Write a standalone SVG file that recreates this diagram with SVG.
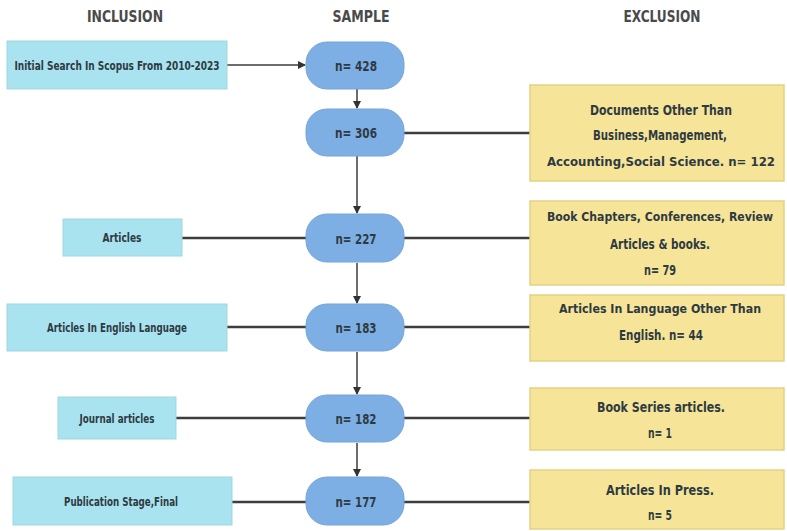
<svg xmlns="http://www.w3.org/2000/svg" width="787" height="531" viewBox="0 0 787 531">
<defs>
<marker id="arr" markerWidth="8" markerHeight="8" refX="7" refY="4" orient="auto" markerUnits="userSpaceOnUse">
<path d="M0,0 L8,4 L0,8 Z" fill="#333"/>
</marker>
<style>
text{font-family:"DejaVu Sans Condensed","DejaVu Sans",sans-serif;font-weight:bold;fill:#2e3a42;text-anchor:middle;dominant-baseline:central}
.hd{font-size:15px;fill:#4a4a4a}
.inc{fill:#a9e3ef;stroke:#9fd6e2;stroke-width:1}
.smp{fill:#7eafe4;stroke:#75a5d8;stroke-width:1}
.exc{fill:#f6e598;stroke:#e3d185;stroke-width:1.5}
.lt{font-size:12px}
.st{font-size:14px}
.rt{font-size:14px}
.rs{font-size:12.5px}
.ln{stroke:#3d3d3d;stroke-width:2.5;fill:none}
.ar{stroke:#3d3d3d;stroke-width:1.5;fill:none;marker-end:url(#arr)}
</style>
</defs>
<rect width="787" height="531" fill="#ffffff"/>
<g id="headers">
<text class="hd" x="125" y="17" textLength="76" lengthAdjust="spacingAndGlyphs">INCLUSION</text>
<text class="hd" x="361" y="17" textLength="57" lengthAdjust="spacingAndGlyphs">SAMPLE</text>
<text class="hd" x="662" y="17" textLength="77" lengthAdjust="spacingAndGlyphs">EXCLUSION</text>
</g>
<g id="connectors">
<line class="ar" x1="227" y1="65" x2="305" y2="65"/>
<line class="ar" x1="357" y1="89" x2="357" y2="108"/>
<line class="ln" x1="402" y1="133" x2="530" y2="133"/>
<line class="ar" x1="357" y1="156" x2="357" y2="213"/>
<line class="ln" x1="182" y1="238" x2="308" y2="238"/>
<line class="ln" x1="402" y1="238" x2="530" y2="238"/>
<line class="ar" x1="357" y1="263" x2="357" y2="303"/>
<line class="ln" x1="227" y1="327" x2="308" y2="327"/>
<line class="ln" x1="402" y1="327" x2="530" y2="327"/>
<line class="ar" x1="357" y1="352" x2="357" y2="394"/>
<line class="ln" x1="176" y1="418" x2="308" y2="418"/>
<line class="ln" x1="402" y1="418" x2="530" y2="418"/>
<line class="ar" x1="357" y1="443" x2="357" y2="476"/>
<line class="ln" x1="232" y1="502" x2="308" y2="502"/>
<line class="ln" x1="402" y1="502" x2="530" y2="502"/>
</g>
<g id="inc1"><rect class="inc" x="7" y="41" width="220" height="48"/><text class="lt" x="117" y="66" textLength="205" lengthAdjust="spacingAndGlyphs">Initial Search In Scopus  From 2010-2023</text></g>
<g id="inc2"><rect class="inc" x="63" y="219" width="119" height="37"/><text class="lt" x="122" y="238" textLength="39" lengthAdjust="spacingAndGlyphs">Articles</text></g>
<g id="inc3"><rect class="inc" x="7" y="304" width="220" height="47"/><text class="lt" x="117" y="328" textLength="140" lengthAdjust="spacingAndGlyphs">Articles In English Language</text></g>
<g id="inc4"><rect class="inc" x="58" y="397" width="118" height="42"/><text class="lt" x="117" y="419" textLength="75" lengthAdjust="spacingAndGlyphs">Journal articles</text></g>
<g id="inc5"><rect class="inc" x="13" y="477" width="219" height="48"/><text class="lt" x="121" y="502" textLength="114" lengthAdjust="spacingAndGlyphs">Publication Stage,Final</text></g>
<g id="s428"><rect class="smp" x="306" y="42" width="98" height="47" rx="21"/><text class="st" x="356" y="66" textLength="42" lengthAdjust="spacingAndGlyphs">n= 428</text></g>
<g id="s306"><rect class="smp" x="306" y="109" width="98" height="47" rx="21"/><text class="st" x="356" y="133" textLength="42" lengthAdjust="spacingAndGlyphs">n= 306</text></g>
<g id="s227"><rect class="smp" x="306" y="214" width="98" height="48" rx="21"/><text class="st" x="356" y="239" textLength="41" lengthAdjust="spacingAndGlyphs">n= 227</text></g>
<g id="s183"><rect class="smp" x="306" y="304" width="98" height="47" rx="21"/><text class="st" x="356" y="328" textLength="41" lengthAdjust="spacingAndGlyphs">n= 183</text></g>
<g id="s182"><rect class="smp" x="306" y="395" width="98" height="47" rx="21"/><text class="st" x="356" y="419" textLength="41" lengthAdjust="spacingAndGlyphs">n= 182</text></g>
<g id="s177"><rect class="smp" x="306" y="477" width="98" height="48" rx="21"/><text class="st" x="356" y="502" textLength="41" lengthAdjust="spacingAndGlyphs">n= 177</text></g>
<g id="exc1"><rect class="exc" x="530" y="85" width="254" height="96"/>
<text class="rt" x="661" y="110" textLength="142" lengthAdjust="spacingAndGlyphs">Documents Other Than</text>
<text class="rt" x="660" y="135" textLength="134" lengthAdjust="spacingAndGlyphs">Business,Management,</text>
<text class="rs" x="661" y="161" textLength="228" lengthAdjust="spacingAndGlyphs">Accounting,Social Science. n= 122</text></g>
<g id="exc2"><rect class="exc" x="530" y="201" width="254" height="84"/>
<text class="rs" x="660" y="216" textLength="226" lengthAdjust="spacingAndGlyphs">Book Chapters, Conferences, Review</text>
<text class="rt" x="660" y="244" textLength="100" lengthAdjust="spacingAndGlyphs">Articles &amp; books.</text>
<text class="rt" x="660" y="270" textLength="32" lengthAdjust="spacingAndGlyphs">n= 79</text></g>
<g id="exc3"><rect class="exc" x="530" y="295" width="254" height="66"/>
<text class="rs" x="660" y="308" textLength="202" lengthAdjust="spacingAndGlyphs">Articles In Language Other Than</text>
<text class="rt" x="661" y="335" textLength="84" lengthAdjust="spacingAndGlyphs">English. n= 44</text></g>
<g id="exc4"><rect class="exc" x="530" y="388" width="254" height="62"/>
<text class="rt" x="661" y="407" textLength="128" lengthAdjust="spacingAndGlyphs">Book Series articles.</text>
<text class="rt" x="660" y="433" textLength="24" lengthAdjust="spacingAndGlyphs">n= 1</text></g>
<g id="exc5"><rect class="exc" x="530" y="470" width="254" height="59"/>
<text class="rt" x="660" y="490" textLength="108" lengthAdjust="spacingAndGlyphs">Articles In Press.</text>
<text class="rt" x="660" y="515" textLength="24" lengthAdjust="spacingAndGlyphs">n= 5</text></g>
</svg>
